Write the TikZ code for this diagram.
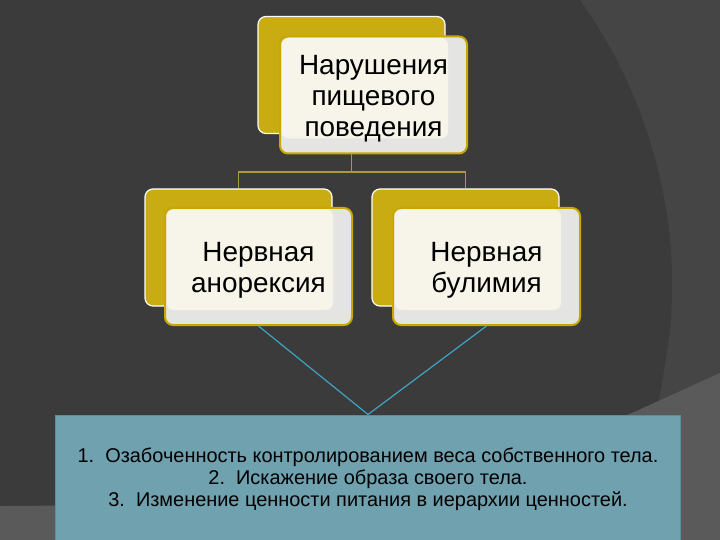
\documentclass[tikz,border=0pt]{standalone}
\usepackage{fontspec}
\setmainfont{Liberation Sans}
\usetikzlibrary{calc}
\pgfdeclarelayer{bg}
\pgfdeclarelayer{conn}
\pgfsetlayers{bg,conn,main}
\definecolor{bgbase}{HTML}{3B3B3B}
\definecolor{bgright}{HTML}{454545}
\definecolor{bgband}{HTML}{5A5A5A}
\definecolor{gold}{HTML}{C9AB12}
\definecolor{goldline}{HTML}{C7A700}
\definecolor{cream}{HTML}{F7F5E9}
\definecolor{paleg}{HTML}{E4E4E2}
\definecolor{connc}{HTML}{A99B3C}
\definecolor{bluel}{HTML}{3FA3C2}
\definecolor{tealf}{HTML}{6FA1AF}
\definecolor{tealb}{HTML}{5C8D9B}
\newcommand{\fronttext}[1]{\raisebox{-4bp}[\height][\depth]{\parbox{180bp}{\centering #1}}}
\begin{document}
\begin{tikzpicture}[x=1bp,y=-1bp,
  backbox/.style={draw=white, line width=1.2bp, fill=gold, rounded corners=8bp,
    minimum width=187bp, minimum height=117bp, inner sep=0pt},
  frontbox/.style={draw=goldline, line width=2bp, fill=paleg, rounded corners=8bp,
    minimum width=187bp, minimum height=117bp, inner sep=0pt, align=center,
    font=\fontsize{28}{31}\selectfont,
    path picture={\fill[cream, rounded corners=7bp]
      ([shift={(1.5,1.5)}]path picture bounding box.north west) rectangle
      ([shift={(-19,-15)}]path picture bounding box.south east);}},
  goldconn/.style={draw=connc, line width=1.2bp},
  blueconn/.style={draw=bluel, line width=1.2bp},
  listbox/.style={draw=tealb, line width=1bp, fill=tealf, minimum width=624bp,
    minimum height=128bp, inner sep=0pt, align=center,
    font=\fontsize{20}{22}\selectfont}
]
\useasboundingbox (0,0) rectangle (720,540);
\begin{pgfonlayer}{bg}
  \fill[bgbase] (0,0) rectangle (720,540);
  \fill[bgright] (580,0) .. controls (645,90) and (682,210) .. (670,330)
     .. controls (666,360) and (662,385) .. (655,420) -- (720,420) -- (720,0) -- cycle;
  \fill[bgband] (0,506) .. controls (300,506) and (520,460) .. (632,413)
     -- (720,373) -- (720,540) -- (0,540) -- cycle;
\end{pgfonlayer}

\node[backbox] (topb) at (351.5,75) {};
\node[backbox] (leftb) at (238.5,247.5) {};
\node[backbox] (rightb) at (465.5,247.5) {};

\node[frontbox] (topf) at (373.5,95) {\fronttext{Нарушения\\пищевого\\поведения}};
\node[frontbox] (leftf) at (258.5,266.5) {\fronttext{Нервная\\анорексия}};
\node[frontbox] (rightf) at (486.5,266.5) {\fronttext{Нервная\\булимия}};

\node[listbox] (list) at (368,479) {1.\ \ Озабоченность контролированием веса собственного тела.\\
2.\ \ Искажение образа своего тела.\\
3.\ \ Изменение ценности питания в иерархии ценностей.};

\begin{pgfonlayer}{conn}
  \coordinate (j) at (351.5,172);
  \draw[goldconn] (topb.south) -- (j) -| (leftb.north);
  \draw[goldconn] (j) -| (rightb.north);
\end{pgfonlayer}

\draw[blueconn] (leftf.south) -- (list.north);
\draw[blueconn] (rightf.south) -- (list.north);
\end{tikzpicture}
\end{document}
